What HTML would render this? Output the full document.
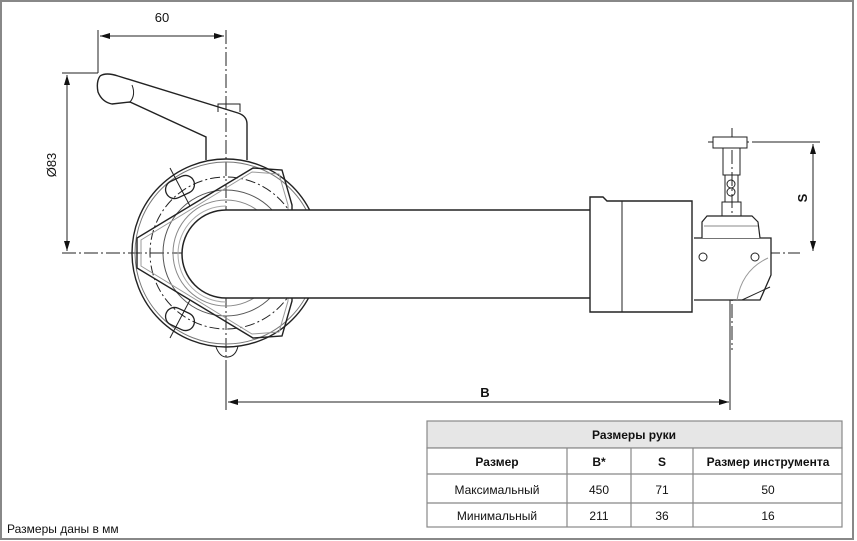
<!DOCTYPE html>
<html><head><meta charset="utf-8"><style>
body{margin:0;background:#fff}
svg{display:block}
text{font-family:"Liberation Sans",Arial,sans-serif;fill:#111}
</style></head><body>
<svg width="857" height="541" viewBox="0 0 857 541" xmlns="http://www.w3.org/2000/svg">
<rect x="1" y="1" width="852" height="538" fill="#fff" stroke="#888" stroke-width="2"/>
<defs>
<marker id="a" viewBox="0 0 10 6" refX="10" refY="3" markerWidth="10" markerHeight="6" orient="auto-start-reverse"><path d="M0,0 L10,3 L0,6 z" fill="#111"/></marker>
</defs>
<g fill="none" stroke="#222" stroke-width="1">
<!-- centerlines -->
<line x1="62" y1="253" x2="800" y2="253" stroke-dasharray="14,3,2,3"/>
<line x1="226" y1="30" x2="226" y2="372" stroke-dasharray="14,3,2,3"/>
<line x1="732" y1="128" x2="732" y2="350" stroke-dasharray="14,3,2,3"/>
<line x1="708" y1="142" x2="760" y2="142" stroke-dasharray="14,3,2,3"/>
<!-- dims -->
<line x1="98" y1="30" x2="98" y2="73"/>
<line x1="100" y1="36" x2="224" y2="36" marker-start="url(#a)" marker-end="url(#a)"/>
<line x1="62" y1="73" x2="98" y2="73"/>
<line x1="67" y1="75" x2="67" y2="251" marker-start="url(#a)" marker-end="url(#a)"/>
<line x1="228" y1="402" x2="729" y2="402" marker-start="url(#a)" marker-end="url(#a)"/>
<line x1="730" y1="300" x2="730" y2="410"/>
<line x1="226" y1="372" x2="226" y2="410"/>
<line x1="760" y1="142" x2="820" y2="142"/>
<line x1="813" y1="144" x2="813" y2="251" marker-start="url(#a)" marker-end="url(#a)"/>
<!-- handle -->
<path d="M100,76 Q96,82 98,92 Q102,102 112,104 L130,102 L206,137 L206,160" stroke-width="1.4"/>
<path d="M100,76 Q106,72 118,76 L238,113 Q247,116 247,124 L247,160" stroke-width="1.4"/>
<path d="M218,112 L218,104 L240,104 L240,112"/>
<path d="M132,85 Q136,95 130,102"/>
<!-- ring -->
<circle cx="226" cy="253" r="94" stroke-width="1.4"/>
<circle cx="226" cy="253" r="91" stroke="#777"/>
<circle cx="226" cy="253" r="76" stroke-dasharray="10,3,2,3"/>
<circle cx="226" cy="253" r="63" stroke="#555"/>
<circle cx="226" cy="253" r="53" stroke="#888"/>
<path d="M253,168 L282,170 L292,205 L292,301 L282,336 L253,338 L137,268 L137,238 Z" stroke-width="1.4"/>
<path d="M252,172 L279,174 L288,205 L288,301 L279,332 L252,334 L141,266 L141,240 Z" stroke="#999"/>
<rect x="165" y="178" width="30" height="18" rx="9" transform="rotate(-25 180 187)" stroke-width="1.3"/>
<rect x="165" y="310" width="30" height="18" rx="9" transform="rotate(25 180 319)" stroke-width="1.3"/>
<line x1="170" y1="168" x2="190" y2="206"/>
<line x1="190" y1="300" x2="170" y2="338"/>
<path d="M216,347 Q220,358 228,357 Q236,356 238,346"/>
<!-- tube -->
<path d="M590,210 L226,210 A43,43 0 0 0 226,298 L590,298" fill="#fff" stroke-width="1.5"/>
<path d="M226,206 A47,47 0 0 0 226,302" stroke="#aaa"/>
<!-- collar -->
<path d="M590,197 L603,197 L607,201 L692,201 L692,312 L590,312 Z" fill="#fff" stroke-width="1.4"/>
<line x1="622" y1="201" x2="622" y2="312"/>
<!-- head -->
<path d="M694,238 L771,238 L771,275 L760,300 L694,300" fill="#fff" stroke-width="1.3"/>
<path d="M742,300 L770,287" />
<path d="M737,300 Q742,270 768,258" stroke="#999"/>
<circle cx="703" cy="257" r="4"/>
<circle cx="755" cy="257" r="4"/>
<path d="M702,238 L702,222 L707,216 L752,216 L758,222 L760,238" fill="#fff" stroke-width="1.2"/>
<line x1="704" y1="226" x2="758" y2="226" stroke="#888"/>
<path d="M722,216 L722,202 L741,202 L741,216"/>
<rect x="725" y="175" width="13" height="27"/>
<circle cx="731" cy="184" r="4"/><circle cx="731" cy="192" r="4"/>
<rect x="723" y="148" width="17" height="27"/>
<rect x="713" y="137" width="34" height="11" fill="#fff"/>
</g>
<text x="162" y="22" font-size="13" text-anchor="middle">60</text>
<text transform="translate(56,165) rotate(-90)" font-size="13" text-anchor="middle">Ø83</text>
<text x="485" y="397" font-size="13" font-weight="bold" text-anchor="middle">B</text>
<text transform="translate(807,198) rotate(-90)" font-size="13" font-weight="bold" text-anchor="middle">S</text>
<text x="7" y="533" font-size="12">Размеры даны в мм</text>
<!-- table -->
<g stroke="#888" stroke-width="1.2" fill="none">
<rect x="427" y="421" width="415" height="27" fill="#e6e6e6"/>
<rect x="427" y="448" width="415" height="79" fill="#fff"/>
<line x1="427" y1="474" x2="842" y2="474"/>
<line x1="427" y1="503" x2="842" y2="503"/>
<line x1="567" y1="448" x2="567" y2="527"/>
<line x1="631" y1="448" x2="631" y2="527"/>
<line x1="693" y1="448" x2="693" y2="527"/>
</g>
<g font-size="12" text-anchor="middle">
<text x="634" y="439" font-weight="bold">Размеры руки</text>
<text x="497" y="466" font-weight="bold">Размер</text>
<text x="599" y="466" font-weight="bold">B*</text>
<text x="662" y="466" font-weight="bold">S</text>
<text x="768" y="466" font-weight="bold">Размер инструмента</text>
<text x="497" y="494">Максимальный</text>
<text x="599" y="494">450</text>
<text x="662" y="494">71</text>
<text x="768" y="494">50</text>
<text x="497" y="520">Минимальный</text>
<text x="599" y="520">211</text>
<text x="662" y="520">36</text>
<text x="768" y="520">16</text>
</g>
</svg>
</body></html>
